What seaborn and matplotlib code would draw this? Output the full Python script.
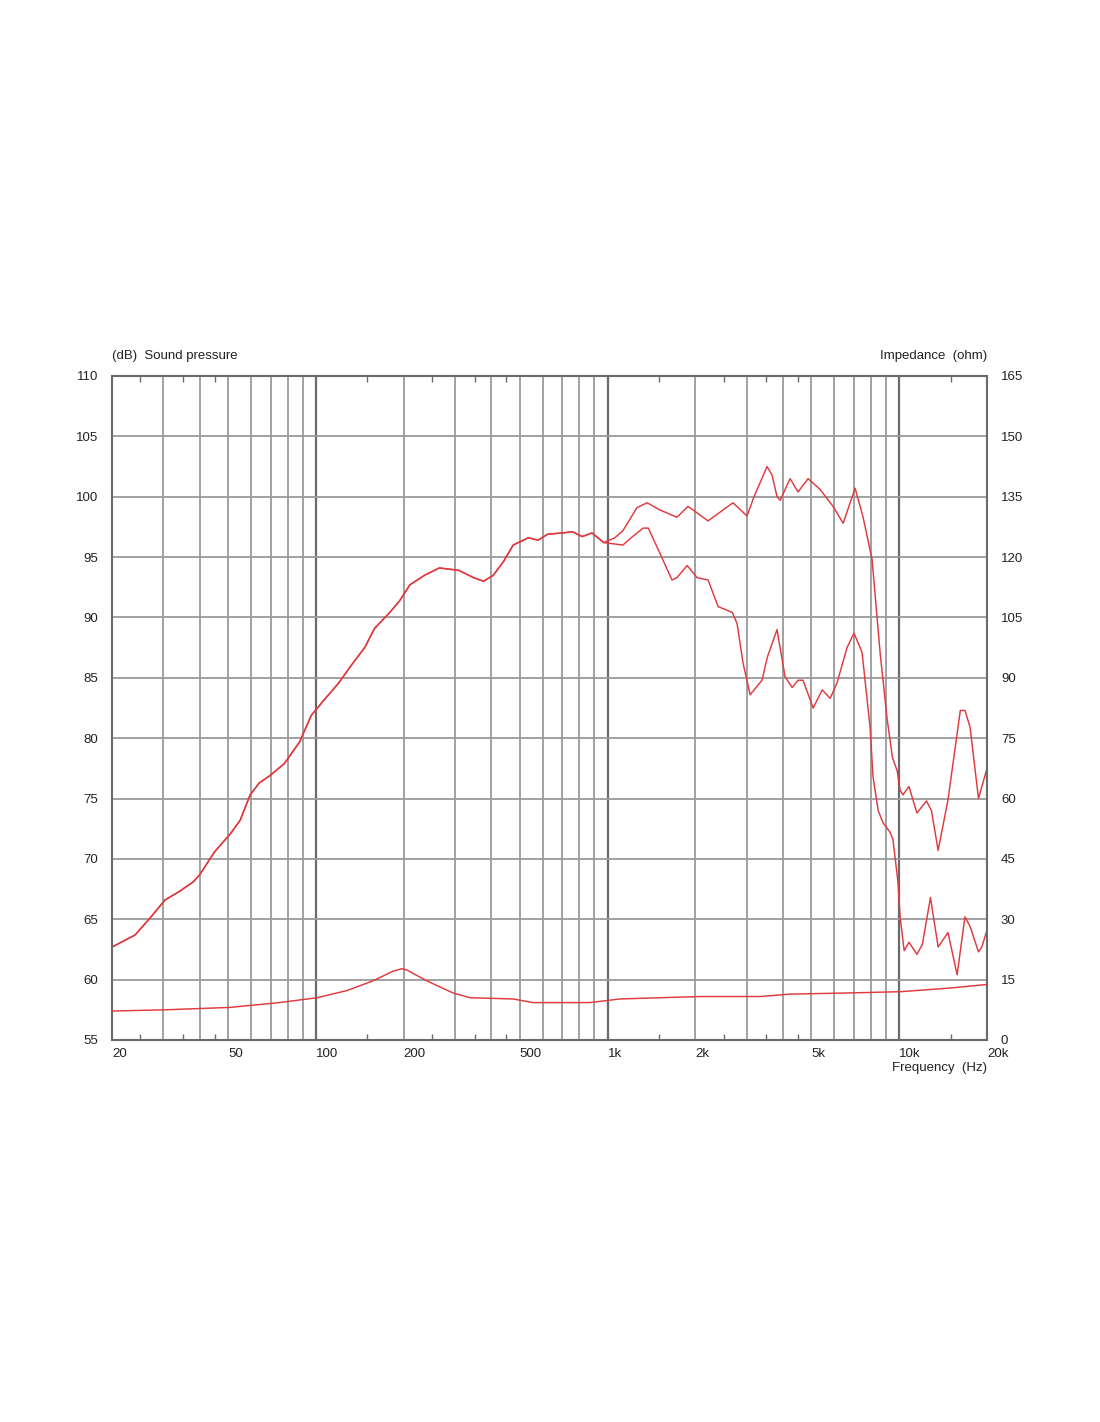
import numpy as np
import pandas as pd
import matplotlib
matplotlib.use("Agg")
import matplotlib.pyplot as plt
import seaborn as sns

# ---------------- data ----------------
# shared low-frequency part of both SPL curves (Hz, dB)
low_freq = [20, 24, 27, 30.4, 34, 38, 40, 45, 51, 55, 59.5, 64, 69.6, 78, 88, 96.5,
            107, 120, 131, 147, 159, 179, 194, 210, 236, 265, 309, 347, 376, 406,
            439, 475, 535, 578, 624, 701, 758, 819, 885, 971]
low_spl = [62.7, 63.7, 65.1, 66.6, 67.3, 68.1, 68.7, 70.6, 72.1, 73.2, 75.3, 76.3,
           76.9, 77.9, 79.7, 81.9, 83.2, 84.6, 85.9, 87.5, 89.1, 90.4, 91.4, 92.7,
           93.5, 94.1, 93.9, 93.3, 93.0, 93.5, 94.6, 96.0, 96.6, 96.4, 96.9, 97.0,
           97.1, 96.7, 97.0, 96.2]

# on-axis response above 1 kHz
on_freq = [1060, 1130, 1262, 1366, 1513, 1730, 1888, 2212, 2692, 3008, 3178, 3524,
           3665, 3812, 3906, 4226, 4500, 4872, 5357, 5933, 6424, 7060, 7520, 8073,
           8600, 9080, 9480, 9840, 10070, 10300, 10800, 11500, 12400, 12900, 13600,
           14700, 16200, 16800, 17500, 18700, 20000]
on_spl = [96.6, 97.2, 99.1, 99.5, 98.9, 98.3, 99.2, 98.0, 99.5, 98.4, 100.0, 102.5,
          101.8, 100.0, 99.7, 101.5, 100.4, 101.5, 100.6, 99.2, 97.8, 100.7, 98.3,
          94.8, 87.1, 81.7, 78.4, 77.3, 75.7, 75.3, 76.0, 73.8, 74.8, 74.0, 70.7,
          74.9, 82.3, 82.3, 80.9, 75.0, 77.5]

# off-axis response above 1 kHz
off_freq = [1130, 1205, 1324, 1380, 1513, 1664, 1730, 1874, 2028, 2212, 2393, 2570,
            2680, 2780, 2916, 3082, 3386, 3530, 3812, 4060, 4294, 4500, 4680, 5070,
            5445, 5800, 6124, 6624, 7000, 7460, 7946, 8134, 8472, 8800, 9310, 9520,
            9912, 10070, 10400, 10800, 11500, 12000, 12800, 13600, 14700, 15800,
            16800, 17500, 18700, 19200, 20000]
off_spl = [96.0, 96.6, 97.4, 97.4, 95.3, 93.1, 93.3, 94.3, 93.3, 93.1, 90.9, 90.6,
           90.4, 89.5, 86.2, 83.6, 84.8, 86.7, 89.0, 85.1, 84.2, 84.8, 84.8, 82.5,
           84.0, 83.3, 84.6, 87.5, 88.7, 87.1, 80.9, 76.8, 74.0, 73.0, 72.2, 71.6,
           68.0, 65.2, 62.4, 63.1, 62.1, 62.9, 66.8, 62.7, 63.9, 60.4, 65.2, 64.4,
           62.3, 62.7, 64.1]

# impedance (Hz, ohm)
imp_freq = [20, 30.4, 50.8, 75, 101, 128, 157, 184, 197, 205, 240, 295, 338, 474,
            555, 870, 1104, 2076, 3334, 4226, 6792, 10070, 14900, 20000]
imp_ohm = [7.2, 7.5, 8.1, 9.3, 10.5, 12.3, 14.7, 17.1, 17.7, 17.4, 14.7, 11.7, 10.5,
           10.2, 9.3, 9.3, 10.2, 10.8, 10.8, 11.4, 11.7, 12.0, 12.9, 13.8]

x_tick_vals = [20, 50, 100, 200, 500, 1000, 2000, 5000, 10000, 20000]
x_tick_labels = ["20", "50", "100", "200", "500", "1k", "2k", "5k", "10k", "20k"]
y_ticks_db = list(range(55, 111, 5))
y_ticks_ohm = list(range(0, 166, 15))

# ---------------- build tables ----------------
spl_df = pd.concat([
    pd.DataFrame({"freq": low_freq + on_freq, "spl": low_spl + on_spl, "curve": "on"}),
    pd.DataFrame({"freq": low_freq + off_freq, "spl": low_spl + off_spl, "curve": "off"}),
], ignore_index=True)
imp_df = pd.DataFrame({"freq": imp_freq, "ohm": imp_ohm})

# ---------------- style ----------------
sns.set_theme(style="white")
plt.rcParams["font.family"] = ["Liberation Sans", "DejaVu Sans"]

RED = "#e0393e"
GRID = "#9a9a9a"
DARK = "#6a6a6a"
TXT = "#222222"
fs = 9.5

fig = plt.figure(figsize=(11, 14.22), dpi=100)
ax = fig.add_axes([112 / 1100, 1 - 1040 / 1422, 875 / 1100, 664 / 1422])

sns.lineplot(data=spl_df, x="freq", y="spl", hue="curve", units="curve",
             estimator=None, palette=[RED, RED], legend=False, lw=1.05, ax=ax)

ax.set_xscale("log")
ax.set_xlim(20, 20000)
ax.set_ylim(55, 110)

# grid positions
grid_pos = [m * 10 ** e for e in range(1, 5) for m in range(1, 10)]
grid_pos = [g for g in grid_pos if 20 <= g <= 20000]
ax.set_xticks(x_tick_vals)
ax.set_xticklabels(x_tick_labels)
ax.set_xticks([g for g in grid_pos if g not in x_tick_vals], minor=True)
ax.set_yticks(y_ticks_db)
ax.tick_params(axis="both", which="both", length=0)
ax.tick_params(axis="x", pad=6, labelsize=fs, colors=TXT)
ax.tick_params(axis="y", pad=10, labelsize=fs, colors=TXT)
for lbl in ax.get_xticklabels():
    lbl.set_ha("left")

ax.grid(True, which="both", axis="x", color=GRID, lw=1.3)
ax.grid(True, which="major", axis="y", color=GRID, lw=1.3)
for t in ax.xaxis.get_major_ticks() + ax.xaxis.get_minor_ticks():
    v = t.get_loc()
    if v in (100, 1000, 10000):
        t.gridline.set_color(DARK)
        t.gridline.set_linewidth(1.6)
ax.set_axisbelow(True)
ax.set_xlabel("")
ax.set_ylabel("")
for s in ax.spines.values():
    s.set_color(DARK)
    s.set_linewidth(1.5)

# impedance axis
ax2 = ax.twinx()
sns.lineplot(data=imp_df, x="freq", y="ohm", color=RED, lw=1.05, ax=ax2)
ax2.set_ylim(0, 165)
ax2.set_yticks(y_ticks_ohm)
ax2.tick_params(axis="y", length=0, pad=10, labelsize=fs, colors=TXT)
ax2.set_ylabel("")
ax2.grid(False)
for s in ax2.spines.values():
    s.set_visible(False)

# small inside ticks at top and bottom
ax3 = ax.twiny()
ax3.set_xscale("log")
ax3.set_xlim(20, 20000)
ax3.set_xticks([25, 35, 45, 150, 250, 350, 450, 1500, 2500, 3500, 4500, 15000])
ax3.xaxis.set_minor_locator(matplotlib.ticker.NullLocator())
ax3.tick_params(axis="x", which="major", direction="in", length=4, width=1,
                color=DARK, top=True, bottom=True, labeltop=False, labelbottom=False)
for s in ax3.spines.values():
    s.set_visible(False)

fig.text(112 / 1100, 1 - 356 / 1422, "(dB)  Sound pressure", fontsize=fs,
         ha="left", va="center", color=TXT)
fig.text(987 / 1100, 1 - 356 / 1422, "Impedance  (ohm)", fontsize=fs,
         ha="right", va="center", color=TXT)
fig.text(987 / 1100, 1 - 1068 / 1422, "Frequency  (Hz)", fontsize=fs,
         ha="right", va="center", color=TXT)

fig.savefig("out.png", dpi=100, facecolor="white")
